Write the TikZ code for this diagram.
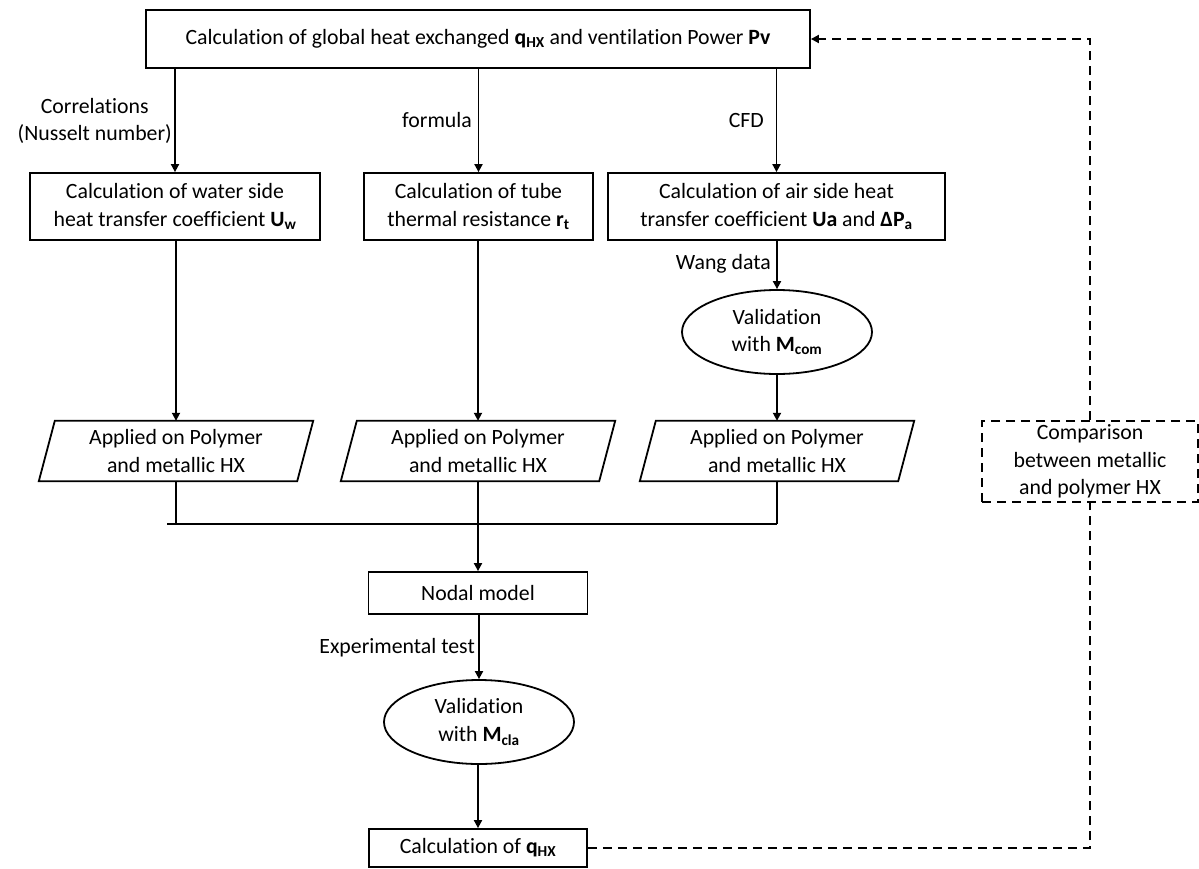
\documentclass[tikz,border=0pt]{standalone}
\usepackage{fontspec}
\setmainfont{Carlito}[Ligatures=NoCommon]
\usetikzlibrary{arrows.meta,shapes.geometric}
\begin{document}
\begin{tikzpicture}[x=1pt,y=-1pt,
  every node/.style={font=\fontsize{21.8}{27.5}\selectfont, inner sep=0pt, align=center},
  box/.style={draw, line width=1.8pt, minimum height=#1},
  box/.default=67pt,
  para/.style={minimum width=258pt, minimum height=60pt},
  oval/.style={draw, ellipse, line width=1.8pt, minimum width=190pt, minimum height=84pt},
  line/.style={line width=1.8pt},
  arr/.style={line width=1.8pt, -{Triangle[length=8pt,width=8pt]}},
  dashline/.style={line width=1.8pt, dash pattern=on 9pt off 6pt},
  lbl/.style={anchor=east}
]
\useasboundingbox (0,0) rectangle (1199,868);

% top box
\node[box=58pt, minimum width=664pt] (top) at (478,39)
  {Calculation of global heat exchanged \textbf{q\textsubscript{HX}} and ventilation Power \textbf{Pv}};

% second row
\node[box, minimum width=290pt] (b1) at (175,206.5)
  {Calculation of water side\\heat transfer coefficient \textbf{U\textsubscript{w}}};
\node[box, minimum width=229pt] (b2) at (478.5,206.5)
  {Calculation of tube\\thermal resistance \textbf{r\textsubscript{t}}};
\node[box, minimum width=337pt] (b3) at (776.5,206.5)
  {Calculation of air side heat\\transfer coefficient \textbf{Ua} and \textbf{ΔP\textsubscript{a}}};

% validation Mcom
\node[oval] (v1) at (777,332) {Validation\\with \textbf{M\textsubscript{com}}};

% parallelograms
\foreach \n/\x in {p1/176,p2/478,p3/777}{
  \node[para] (\n) at (\x,451) {Applied on Polymer\\and metallic HX};
  \draw[line] ([xshift=8pt]\n.north west) -- ([xshift=8pt]\n.north east)
     -- ([xshift=-8pt]\n.south east) -- ([xshift=-8pt]\n.south west) -- cycle;
}

% nodal model
\node[box=42pt, minimum width=219pt] (nod) at (478,593) {Nodal model};
\node[oval] (v2) at (479,722) {Validation\\with \textbf{M\textsubscript{cla}}};
\node[box=38pt, minimum width=218pt] (qhx) at (478,848) {Calculation of \textbf{q\textsubscript{HX}}};

% comparison
\node[dashline, draw, minimum width=216pt, minimum height=81pt] (cmp) at (1090,461.5)
  {Comparison\\between metallic\\and polymer HX};

% connectors top -> row2
\draw[arr] (top.south -| b1.north) -- (b1.north);
\draw[arr] (top.south -| b2.north) -- (b2.north);
\draw[arr] (top.south -| b3.north) -- (b3.north);
\node[lbl] (l1) at (172,121) {Correlations\\(Nusselt number)};
\node[lbl] (l2) at (472,120) {formula};
\node[lbl] (l3) at (764,120) {CFD};

% row2 -> paras
\draw[arr] (b1.south -| p1.north) -- (p1.north);
\draw[arr] (b2.south -| p2.north) -- (p2.north);
\draw[arr] (b3.south -| v1.north) -- (v1.north);
\node[lbl] (l4) at (771,264) {Wang data};
\draw[arr] (v1.south) -- (v1.south |- p3.north);

% junction
\coordinate (jl) at (167,524);
\coordinate (jr) at (777,524);
\draw[line] (p1.south) -- (p1.south |- jl);
\draw[line] (p3.south) -- (jr);
\draw[line] (jl) -- (jr);
\draw[arr] (p2.south) -- (nod.north);

% lower chain
\draw[arr] (nod.south) -- (nod.south -| v2.north) -- (v2.north);
\node[lbl] (l5) at (475,648) {Experimental test};
\draw[arr] (v2.south) -- (v2.south -| qhx.north) -- (qhx.north);

% feedback dashed loop
\draw[dashline] (qhx.east) -- (qhx.east -| cmp.south) -- (cmp.south);
\draw[dashline, -{Triangle[length=8pt,width=8pt]}] (cmp.north) -- (cmp.north |- top.east) -- (top.east);
\end{tikzpicture}
\end{document}
